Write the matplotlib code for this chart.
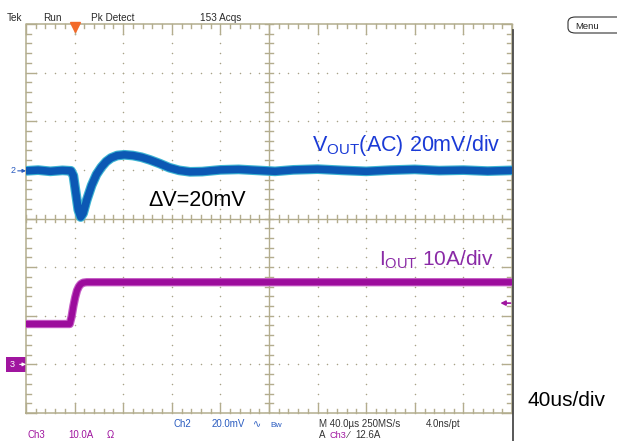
import matplotlib
matplotlib.use("Agg")
import matplotlib.pyplot as plt
from matplotlib.patches import Rectangle, FancyBboxPatch
import numpy as np

plt.rcParams['font.family'] = ['Liberation Sans', 'DejaVu Sans']
plt.rcParams['mathtext.fontset'] = 'custom'
plt.rcParams['mathtext.rm'] = 'Liberation Sans'
plt.rcParams['mathtext.it'] = 'Liberation Sans'

W, H = 617, 441

# ---------------- data ----------------
# time in microseconds, trigger at 0; screen spans -40 .. 360 us (40 us/div)
vout_time_us = [-40, -30, -20, -10, -3, -1, 1, 3, 5, 7, 10, 14, 18, 22, 26, 30, 35, 41,
                48, 55, 62, 70, 78, 86, 95, 105, 120, 135, 150, 165, 180, 200, 220,
                240, 260, 280, 300, 320, 340, 360]
vout_mv = [0, 0.3, -0.2, 0.2, 0, -2, -9, -16, -19, -17.5, -12, -6, -1.5, 1.5, 3.8, 5.3,
           6.3, 6.6, 6.3, 5.6, 4.5, 3.0, 1.3, 0.2, -0.4, -0.3, 0.4, 0.6, 0.2, -0.2, 0.4,
           0.7, 0.2, -0.2, 0.3, 0.6, 0.1, 0.3, -0.1, 0.2]
iout_time_us = [-40, -4, -2.5, -1, 0.5, 2, 3.5, 5, 7, 10, 15, 360]
iout_a = [8.3, 8.3, 9.8, 12.0, 13.8, 15.2, 16.0, 16.5, 16.8, 16.9, 16.9, 16.9]

US_PER_DIV = 40.0
MV_PER_DIV = 20.0
A_PER_DIV = 10.0
CH2_POS = 0.98     # divisions
CH3_POS = -3.0     # divisions
TRIG_LEVEL_A = 12.6

# ---------------- figure ----------------
fig = plt.figure(figsize=(W / 100, H / 100), dpi=100)
fig.patch.set_facecolor('white')

L, R, T, B = 26, 512, 24, 413
ax = fig.add_axes([L / W, 1 - B / H, (R - L) / W, (B - T) / H])
ax.set_xlim(0, 10)
ax.set_ylim(-4, 4)
ax.axis('off')

def fx(x):
    return x / W

def fy(y):
    return 1 - y / H

grid_c = '#b3ad8e'
dot_c = '#a8a288'

# frame
ax.plot([0, 10, 10, 0, 0], [-4, -4, 4, 4, -4], color=grid_c, lw=1.1, clip_on=False, zorder=2)
# center cross
ax.plot([0, 10], [0, 0], color=grid_c, lw=1.0, zorder=2)
ax.plot([5, 5], [-4, 4], color=grid_c, lw=1.0, zorder=2)

# minor ticks
for i in range(51):
    x = i / 5
    major = (i % 5 == 0)
    ln = 0.2 if major else 0.09
    ax.plot([x, x], [4, 4 - ln], color=grid_c, lw=1.0, clip_on=False, zorder=2)
    ax.plot([x, x], [-4, -4 + ln], color=grid_c, lw=1.0, clip_on=False, zorder=2)
    ax.plot([x, x], [-0.08, 0.08], color=grid_c, lw=1.0, zorder=2)
for j in range(41):
    y = -4 + j / 5
    major = (j % 5 == 0)
    ln = 0.2 if major else 0.1
    ax.plot([0, ln], [y, y], color=grid_c, lw=1.0, clip_on=False, zorder=2)
    ax.plot([10, 10 - ln], [y, y], color=grid_c, lw=1.0, clip_on=False, zorder=2)
    ax.plot([4.92, 5.08], [y, y], color=grid_c, lw=1.0, zorder=2)

# dotted grid
dots_x, dots_y = [], []
for gx in range(1, 10):
    if gx == 5:
        continue
    for j in range(1, 40):
        dots_x.append(gx); dots_y.append(-4 + j / 5)
for gy in range(-3, 4):
    if gy == 0:
        continue
    for i in range(1, 50):
        dots_x.append(i / 5); dots_y.append(gy)
ax.scatter(dots_x, dots_y, s=1.2, color=dot_c, linewidths=0, zorder=1)

# ---------------- traces ----------------
vx = [(t + US_PER_DIV) / US_PER_DIV for t in vout_time_us]
vy = [CH2_POS + v / MV_PER_DIV for v in vout_mv]
ax.plot(vx, vy, color='#3cb4d2', lw=7.0, solid_joinstyle='round', zorder=4)
ax.plot(vx, vy, color='#0c58b4', lw=5.4, solid_joinstyle='round', zorder=5)

ix = [(t + US_PER_DIV) / US_PER_DIV for t in iout_time_us]
iy = [CH3_POS + a / A_PER_DIV for a in iout_a]
ax.plot(ix, iy, color='#c55cc5', lw=6.0, solid_joinstyle='round', zorder=4)
ax.plot(ix, iy, color='#9c0c9c', lw=4.4, solid_joinstyle='round', zorder=5)

# trigger position marker (orange triangle)
ax.plot([1], [3.93], marker='v', markersize=7, color='#f26a2a', clip_on=False, zorder=6)

# ---------------- annotations ----------------
fig.text(fx(312), fy(151), r'V$_{\mathrm{OUT}}$(AC) 20mV/div', color='#1a3ad6',
         fontsize=15.5, va='baseline', ha='left')
fig.text(fx(379), fy(266), r'I$_{\mathrm{OUT}}$ 10A/div', color='#8a2aa6',
         fontsize=15, va='baseline', ha='left')
fig.text(fx(148), fy(206), '\u0394V=20mV', color='black', fontsize=15.5,
         va='baseline', ha='left')
fig.text(fx(528), fy(406), '40us/div', color='black', fontsize=15,
         va='baseline', ha='left')

# top status line
top_c = '#2a2a2a'
for x, s in [(7, 'Tek'), (43, 'Run'), (91, 'Pk Detect'), (200, '153 Acqs')]:
    fig.text(fx(x), fy(21), s, color=top_c, fontsize=7.2, va='baseline', ha='left')

# menu button
fig.patches.append(FancyBboxPatch((fx(568), fy(33)), fx(60), 16 / H,
                                  boxstyle='round,pad=0,rounding_size=0.012',
                                  transform=fig.transFigure, facecolor='white',
                                  edgecolor='#333333', lw=0.8))
fig.text(fx(575), fy(29), 'Menu', color='#222222', fontsize=6.8, va='baseline', ha='left')

# right dark border line
fig.add_artist(plt.Line2D([fx(513), fx(513)], [fy(30), 0], transform=fig.transFigure,
                          color='#4a4a4a', lw=1.3))

# channel reference markers
ch2_y = 218.5 - CH2_POS * 48.6
fig.text(fx(11), fy(ch2_y), '2', color='#2a5cc0', fontsize=6.5, va='center', ha='left')
ax.annotate('', xy=(0, CH2_POS), xytext=(-0.17, CH2_POS),
            arrowprops=dict(arrowstyle='-|>', color='#2a5cc0', lw=0.8, mutation_scale=5,
                            shrinkA=0, shrinkB=0),
            annotation_clip=False)
ch3_y = 218.5 - CH3_POS * 48.6
box = Rectangle((fx(6), fy(ch3_y + 7.5)), fx(20), 15 / H,
                transform=fig.transFigure, facecolor='#a0159f', edgecolor='none', zorder=-1)
fig.patches.append(box)
fig.text(fx(10), fy(ch3_y), '3', color='white', fontsize=6.5, va='center', ha='left')
ax.annotate('', xy=(0, CH3_POS), xytext=(-0.13, CH3_POS),
            arrowprops=dict(arrowstyle='-|>', color='white', lw=0.8, mutation_scale=5,
                            shrinkA=0, shrinkB=0),
            annotation_clip=False, zorder=7)
# trigger level arrow on right
trig_div = CH3_POS + TRIG_LEVEL_A / A_PER_DIV
ax.annotate('', xy=(9.76, trig_div), xytext=(9.97, trig_div),
            arrowprops=dict(arrowstyle='-|>', color='#a0159f', lw=1.2, mutation_scale=7,
                            shrinkA=0, shrinkB=0))

# bottom status lines
blue_t = '#2a5cc0'
mag_t = '#a0159f'
gray_t = '#333333'
row1, row2 = 427, 438
for x, s, c, fs in [(174, 'Ch2', blue_t, 7.0), (212, '20.0mV', blue_t, 7.0),
                    (253, '\u223f', blue_t, 7.0), (270, 'Bw', blue_t, 6.0),
                    (319, 'M 40.0\u00b5s 250MS/s', gray_t, 7.0), (426, '4.0ns/pt', gray_t, 7.0)]:
    fig.text(fx(x), fy(row1), s, color=c, fontsize=fs, va='baseline', ha='left')
for x, s, c, fs in [(27, 'Ch3', mag_t, 7.0), (68, '10.0A', mag_t, 7.0),
                    (107, '\u03a9', mag_t, 7.0), (319, 'A', gray_t, 7.0),
                    (330, 'Ch3', mag_t, 6.6), (348, '\u2215', gray_t, 7.0),
                    (355, '12.6A', gray_t, 7.0)]:
    fig.text(fx(x), fy(row2), s, color=c, fontsize=fs, va='baseline', ha='left')

fig.savefig('out.png', dpi=100, facecolor='white')
